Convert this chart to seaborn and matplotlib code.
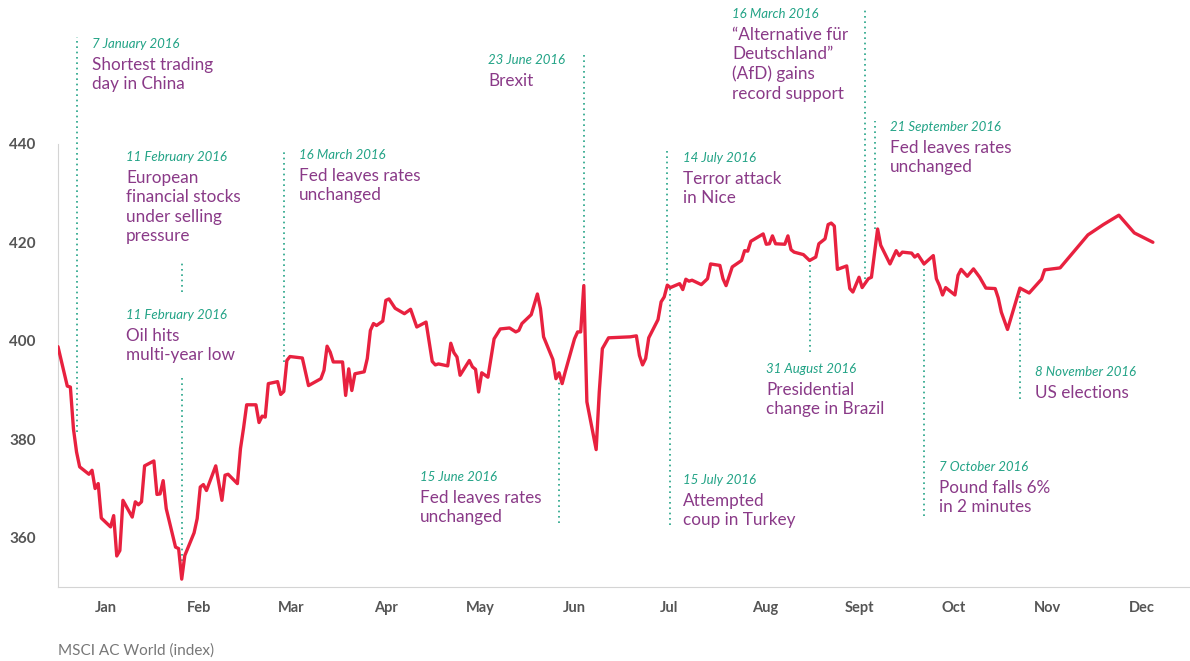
import matplotlib
matplotlib.use("Agg")
import matplotlib.pyplot as plt
import seaborn as sns
import pandas as pd

# MSCI AC World index, 2016
days = ["01-01", "01-04", "01-05", "01-06", "01-07", "01-08", "01-11", "01-12", "01-13", "01-14", "01-15",
        "01-18", "01-19", "01-20", "01-21", "01-22", "01-25", "01-26", "01-27", "01-28", "01-29",
        "02-01", "02-02", "02-03", "02-04", "02-05", "02-08", "02-09", "02-10", "02-11", "02-14",
        "02-15", "02-16", "02-17", "02-18", "02-21", "02-23", "02-24", "02-25", "02-28", "02-29",
        "03-01", "03-02", "03-05", "03-06", "03-07", "03-08", "03-09", "03-12", "03-13", "03-14",
        "03-15", "03-16", "03-20", "03-22", "03-26", "03-27", "03-28", "03-29", "03-30",
        "04-02", "04-03", "04-04", "04-05", "04-06", "04-09", "04-10", "04-11", "04-12", "04-13",
        "04-15", "04-16", "04-17", "04-19", "04-22", "04-24", "04-26", "04-29",
        "05-01", "05-02", "05-03", "05-06", "05-07", "05-08", "05-09", "05-10", "05-13", "05-14",
        "05-15", "05-16", "05-17", "05-19", "05-21", "05-23", "05-26", "05-28", "05-29", "05-30",
        "06-02", "06-04", "06-05", "06-06", "06-09", "06-10", "06-11", "06-12", "06-13", "06-16",
        "06-17", "06-18", "06-19", "06-20", "06-23", "06-24", "06-25", "06-27",
        "07-04", "07-06", "07-07", "07-08", "07-09", "07-10", "07-13", "07-14", "07-15", "07-16",
        "07-17", "07-20", "07-21", "07-22", "07-23", "07-24", "07-27", "07-29", "07-30",
        "08-02", "08-03", "08-04", "08-06", "08-09", "08-10", "08-11", "08-12", "08-16", "08-17",
        "08-18", "08-19", "08-20", "08-23", "08-24", "08-25", "08-26", "08-29", "08-31",
        "09-02", "09-03", "09-05", "09-06", "09-07", "09-08", "09-09", "09-12", "09-13", "09-14",
        "09-16", "09-17", "09-19", "09-20", "09-22", "09-23", "09-26", "09-28", "09-29", "09-30",
        "10-03", "10-04", "10-05", "10-07", "10-10", "10-11", "10-12", "10-13", "10-14", "10-17",
        "10-18", "10-19", "10-21", "10-23", "10-25", "10-27", "10-30", "10-31",
        "11-01", "11-03", "11-07", "11-10", "11-14", "11-15", "11-20", "11-29",
        "12-04", "12-09", "12-14", "12-20"]
values = [398.8, 390.8, 390.6, 382.1, 377.4, 374.4, 372.9, 373.7, 370.0, 371.0, 364.0,
          362.2, 364.5, 356.3, 357.4, 367.6, 364.2, 367.3, 366.7, 367.3, 374.6,
          375.6, 368.8, 368.9, 371.6, 365.9, 358.1, 357.8, 351.6, 356.4, 361.0,
          363.9, 370.3, 370.8, 369.6, 374.6, 367.6, 372.7, 372.9, 371.0, 378.1,
          382.3, 387.0, 387.0, 383.4, 384.7, 384.5, 391.3, 391.7, 389.1, 389.7,
          396.0, 396.8, 396.5, 390.9, 392.3, 394.0, 398.9, 397.7, 395.7,
          395.7, 388.9, 394.3, 389.9, 393.3, 393.7, 396.4, 402.1, 403.5, 403.1,
          404.0, 408.2, 408.5, 406.6, 405.5, 406.4, 402.8, 403.8,
          395.8, 395.1, 395.3, 394.9, 399.5, 397.6, 396.7, 393.0, 396.0, 394.7,
          394.2, 389.6, 393.5, 392.6, 400.4, 402.4, 402.6, 401.8, 402.1, 403.5,
          405.3, 409.5, 406.5, 400.8, 396.2, 392.3, 393.5, 391.3, 393.7, 400.4,
          401.8, 401.8, 411.2, 387.6, 377.9, 389.6, 398.4, 400.6,
          400.8, 401.0, 397.0, 395.1, 396.4, 400.6, 404.3, 407.9, 408.9, 411.3,
          410.8, 411.6, 410.4, 412.5, 412.1, 412.3, 411.4, 412.6, 415.6,
          415.3, 412.6, 411.2, 415.0, 416.3, 418.3, 418.2, 420.2, 421.7, 419.6,
          419.7, 421.3, 419.7, 419.6, 421.3, 418.5, 418.0, 417.5, 416.3,
          417.0, 419.7, 420.7, 423.6, 423.9, 423.3, 414.5, 415.2, 410.6, 409.9,
          412.9, 410.8, 412.6, 412.9, 422.7, 419.4, 415.6, 418.3, 417.3, 418.0,
          417.8, 417.0, 417.5, 415.6, 417.3, 412.6, 411.2, 409.3, 410.8, 409.3,
          413.3, 414.5, 413.1, 414.6, 412.9, 410.7, 410.6, 408.7,
          405.8, 402.3, 410.7, 409.7, 412.5, 414.4, 414.8, 421.5,
          423.6, 425.5, 421.9, 420.0]

month_labels = ["Jan", "Feb", "Mar", "Apr", "May", "Jun", "Jul", "Aug", "Sept", "Oct", "Nov", "Dec"]

# events: date text, description, marker line day and extent, text anchor
event_dates = ["7 January 2016", "11 February 2016", "11 February 2016", "16 March 2016",
               "15 June 2016", "23 June 2016", "14 July 2016", "15 July 2016",
               "31 August 2016", "16 March 2016", "21 September 2016", "7 October 2016",
               "8 November 2016"]
event_labels = ["Shortest trading\nday in China",
                "European\nfinancial stocks\nunder selling\npressure",
                "Oil hits\nmulti-year low",
                "Fed leaves rates\nunchanged",
                "Fed leaves rates\nunchanged",
                "Brexit",
                "Terror attack\nin Nice",
                "Attempted\ncoup in Turkey",
                "Presidential\nchange in Brazil",
                "\u201cAlternative f\u00fcr\nDeutschland\u201d\n(AfD) gains\nrecord support",
                "Fed leaves rates\nunchanged",
                "Pound falls 6%\nin 2 minutes",
                "US elections"]
line_days = ["01-07", "02-10", "02-10", "03-14", "06-11", "06-19", "07-16", "07-17",
             "08-31", "09-18", "09-21", "10-07", "11-07"]
line_top = [461.7, 416.2, 392.7, 438.6, 392.3, 458.1, 438.6, 410.6, 416.2, 467.4, 444.7, 415.6, 410.6]
line_bottom = [381.5, 410.0, 355.3, 395.7, 362.9, 411.2, 411.2, 362.5, 397.8, 412.6, 422.7, 364.5, 388.2]
text_days = ["01-12", "01-23", "01-23", "03-19", "04-27", "05-19", "07-21", "07-21",
             "08-17", "08-06", "09-26", "10-12", "11-12"]
text_y = [460.3, 437.4, 405.3, 437.8, 372.4, 457.1, 437.2, 371.8, 394.3, 466.4, 443.5, 374.4, 393.7]

red = "#e8213f"
teal = "#22a386"
purple = "#8a3a88"
grey = "#d4d4d4"

sns.set_style("white")
plt.rcParams["font.family"] = ["Lato", "DejaVu Sans"]

df = pd.DataFrame({"date": pd.to_datetime(["2016-" + d for d in days]), "value": values})

fig = plt.figure(figsize=(11.9, 6.61), dpi=100)
ax = fig.add_axes([58 / 1190, 74 / 661, 1 - 58 / 1190, 587 / 661])

for i in range(len(event_dates)):
    ld = pd.Timestamp("2016-" + line_days[i])
    ax.plot([ld, ld], [line_bottom[i], line_top[i]], color=teal, linestyle=(0, (1, 2.2)),
            linewidth=1.2, zorder=1)
    td = pd.Timestamp("2016-" + text_days[i])
    ax.text(td, text_y[i], event_dates[i], style="italic", color=teal, fontsize=9.5, va="center")
    ax.annotate(event_labels[i], (td, text_y[i]), xytext=(0, -9.5), textcoords="offset points",
                va="top", ha="left", color=purple, fontsize=12.3, linespacing=1.26)

sns.lineplot(data=df, x="date", y="value", ax=ax, color=red, linewidth=2.4, zorder=3)

ax.set_xlim(pd.Timestamp("2016-01-01"), pd.Timestamp("2017-01-01"))
ax.set_ylim(350, 469.2)
ax.set_xlabel("")
ax.set_ylabel("")

month_starts = pd.date_range("2016-01-01", "2017-01-01", freq="MS")
mids = [month_starts[i] + (month_starts[i + 1] - month_starts[i]) / 2 for i in range(12)]
ax.set_xticks(month_starts)
ax.set_xticklabels([])
ax.set_xticks(mids, minor=True)
ax.set_xticklabels(month_labels, minor=True)
ax.tick_params(axis="x", which="major", length=11, width=1, color=grey, direction="out")
ax.tick_params(axis="x", which="minor", length=0, pad=10, labelsize=10.5, labelcolor="#555555")

ax.set_yticks([360, 380, 400, 420, 440])
ax.set_yticks([370, 390, 410, 430], minor=True)
ax.tick_params(axis="y", which="major", length=8, width=1, color=grey, pad=8,
               labelsize=11, labelcolor="#555555")
ax.tick_params(axis="y", which="minor", length=4.5, width=1, color=grey)
for lab in ax.get_yticklabels() + ax.get_xticklabels(minor=True):
    lab.set_fontweight("bold")

for s in ["top", "right"]:
    ax.spines[s].set_visible(False)
ax.spines["left"].set_bounds(350, 440)
ax.spines["left"].set_color(grey)
ax.spines["bottom"].set_color(grey)

fig.text(58 / 1190, 1 - 651 / 661, "MSCI AC World (index)", color="#777777", fontsize=11, va="center")

fig.savefig("out.png", dpi=100)
